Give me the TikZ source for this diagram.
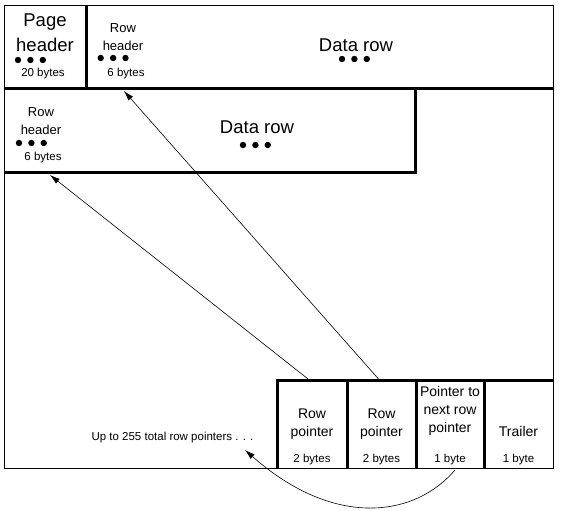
\documentclass[tikz,border=0pt]{standalone}
\usepackage{fontspec}
\setmainfont{Liberation Sans}
\usetikzlibrary{arrows.meta,calc}

\tikzset{
    frameline/.style={line width=0.8pt},
    wall/.style={line width=3pt},
    bigtext/.style={font=\fontsize{18.5}{25}\selectfont, align=center, inner sep=0pt},
    midtext/.style={font=\fontsize{14}{18}\selectfont, align=center, inner sep=0pt},
    hdrtext/.style={font=\fontsize{13}{18.5}\selectfont, align=center, inner sep=0pt},
    smalltext/.style={font=\fontsize{11.5}{13}\selectfont, inner sep=0pt},
    cell/.style 2 args={minimum width=#1pt, minimum height=#2pt, inner sep=0pt, outer sep=0pt},
    ptr/.style={-{Latex[length=10pt,width=6pt]}, line width=0.6pt}
}

\begin{document}
\begin{tikzpicture}[x=1pt, y=-1pt]
    \useasboundingbox (0,0) rectangle (562,511);

    % page frame and walls
    \draw[frameline] (4.5,5.5) rectangle (553.5,468);
    \draw[wall] (4.5,88) -- (553.5,88);
    \draw[wall] (86,5.5) -- (86,88);
    \draw[wall] (415,88) -- (415,172) -- (4.5,172);
    \draw[wall] (277,468) -- (277,380) -- (553.5,380);
    \foreach \x in {347,416,484} {
        \draw[wall] (\x,380) -- (\x,468);
    }

    % first row
    \node[bigtext] (pagehdr) at (45,33) {Page\\header};
    \node[smalltext] (pagebytes) at (43,74) {20 bytes};
    \node[hdrtext] (hdrone) at (123,37) {Row\\header};
    \node[smalltext] (hdronebytes) at (126,74) {6 bytes};
    \node[bigtext] (dataone) at (356,45) {Data row};

    % second row
    \node[hdrtext] (hdrtwo) at (41,121) {Row\\header};
    \node[smalltext] (hdrtwobytes) at (43,158) {6 bytes};
    \node[bigtext] (datatwo) at (257,127.5) {Data row};

    % dots
    \foreach \dx/\dy in {18/60, 100.7/58, 19/143, 342/59, 243/145} {
        \foreach \k in {0,1,2}
            \fill (\dx+12.4*\k,\dy) circle (3.2pt);
    }

    % row offset array
    \node[cell={70}{88}, midtext] (rpone) at (312,424) {Row\\pointer};
    \node[cell={69}{88}, midtext] (rptwo) at (381.5,424) {Row\\pointer};
    \node[cell={68}{88}, midtext] (nextptr) at (450,411) {Pointer to\\next row\\pointer};
    \node[cell={69}{88}, midtext] (trailer) at (518.5,431) {Trailer};
    \node[smalltext] (rponebytes) at (312,460) {2 bytes};
    \node[smalltext] (rptwobytes) at (381.5,460) {2 bytes};
    \node[smalltext] (nextbytes) at (450,460) {1 byte};
    \node[smalltext] (trailerbytes) at (518.5,460) {1 byte};
    \node[smalltext] (upto) at (172.5,438) {Up to 255 total row pointers . . .};

    % pointers
    \coordinate (hdrtwotip) at (50,175);
    \coordinate (hdronetip) at (124,91);
    \coordinate (loopstart) at (455,470);
    \coordinate (loopend) at (245,450);
    \draw[ptr] ($(rpone.north)+(-4,-1)$) -- (hdrtwotip);
    \draw[ptr] ($(rptwo.north)+(-3,-1)$) -- (hdronetip);
    \draw[ptr] (loopstart) .. controls (416,516) and (336,530) .. (loopend);
\end{tikzpicture}
\end{document}
